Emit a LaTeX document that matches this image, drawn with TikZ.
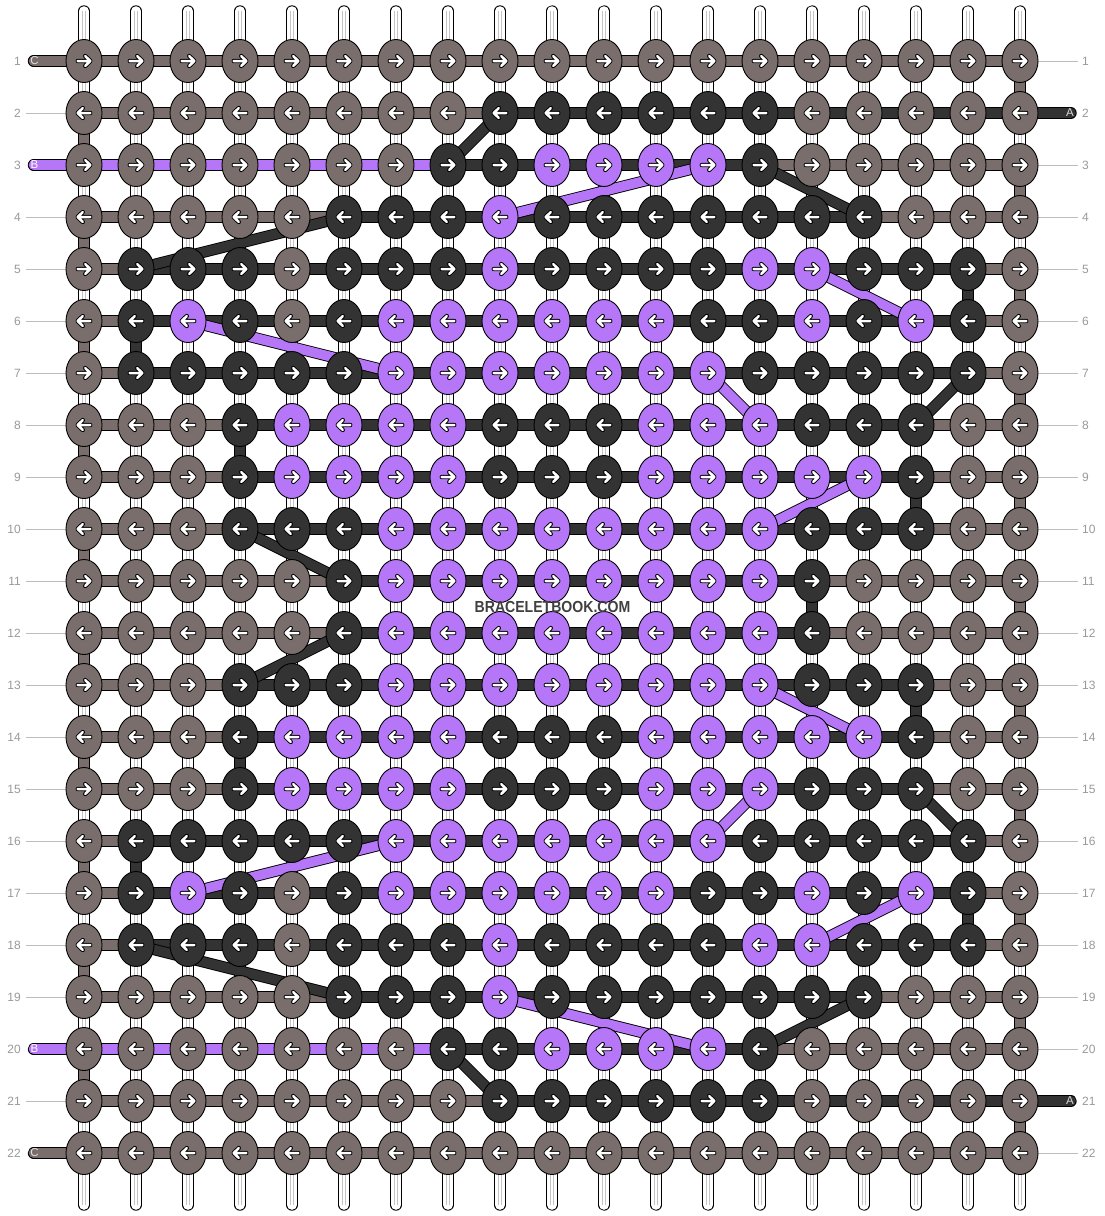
\documentclass[tikz,border=0pt]{standalone}
\usepackage{fontspec}
\setmainfont{Liberation Sans}
\usetikzlibrary{shapes.geometric}
\definecolor{kg}{HTML}{7A6E6C}
\definecolor{kd}{HTML}{333333}
\definecolor{kp}{HTML}{B676F8}
\definecolor{lblc}{HTML}{9A9A9A}
\definecolor{tickc}{HTML}{BDBDBD}
\definecolor{warpl}{HTML}{C4C4C4}
\definecolor{brandc}{HTML}{404040}
\tikzset{
 seg/.style={draw=black, line width=0.9pt, double=#1, double distance=9.6pt},
 warp/.style={draw=black, line width=0.9pt, double=white, double distance=9.6pt, line cap=round},
 knot/.style={ellipse, draw=black, line width=0.9pt, minimum width=36pt, minimum height=43pt, inner sep=0pt},
 rowlbl/.style={text=lblc, font=\fontsize{12}{14}\selectfont, inner sep=0pt},
 endlbl/.style={font=\fontsize{11.5}{13}\selectfont, inner sep=0pt},
 tickline/.style={draw=tickc, line width=0.9pt},
 rarr/.pic={
  \draw[black,line width=4.3pt,line cap=round,line join=round] (-6.3,0)--(6.3,0) (1.2,-5)--(6.3,0)--(1.2,5);
  \draw[white,line width=2.5pt,line cap=round,line join=round] (-6.3,0)--(6.3,0) (1.2,-5)--(6.3,0)--(1.2,5);
 },
 larr/.pic={
  \draw[black,line width=4.3pt,line cap=round,line join=round] (6.3,0)--(-6.3,0) (-1.2,-5)--(-6.3,0)--(-1.2,5);
  \draw[white,line width=2.5pt,line cap=round,line join=round] (6.3,0)--(-6.3,0) (-1.2,-5)--(-6.3,0)--(-1.2,5);
 }
}
\newcommand{\mkknot}[3]{%
 \node[knot, fill=k#3] (k-#1-#2) at (p-#1-#2) {};
 \ifodd#1 \pic at (p-#1-#2) {rarr};\else \pic at (p-#1-#2) {larr};\fi}
\begin{document}
\begin{tikzpicture}[x=1pt,y=-1pt]
\fill[white] (0,0) rectangle (1104,1216);
\path[use as bounding box] (0,0) rectangle (1104,1216);
% grid coordinates
\foreach \r in {1,...,22}{\foreach \c in {1,...,19}{
  \coordinate (p-\r-\c) at ({84+(\c-1)*52},{61+(\r-1)*52});}}
% warps
\foreach \c in {1,...,19}{
  \coordinate (wt-\c) at ({84+(\c-1)*52},11);
  \coordinate (wb-\c) at ({84+(\c-1)*52},1205);
  \draw[warp] (wt-\c) -- (wb-\c);
  \draw[draw=warpl, line width=0.7pt] ([xshift=-1.8pt]wt-\c) -- ([xshift=-1.8pt]wb-\c)
     ([xshift=1.8pt]wt-\c) -- ([xshift=1.8pt]wb-\c);
}
% vertical turns at edges (gray)
\foreach \r in {2,4,...,20}{\pgfmathtruncatemacro\rn{\r+1}\draw[seg=kg] (p-\r-1) -- (p-\rn-1);}
\foreach \r in {1,3,...,21}{\pgfmathtruncatemacro\rn{\r+1}\draw[seg=kg] (p-\r-19) -- (p-\rn-19);}
% vertical turns (dark)
\foreach \c/\r in {18/5,2/6,4/8,17/9,15/11,17/13,4/14,2/16,18/17}{
  \pgfmathtruncatemacro\rn{\r+1}\draw[seg=kd] (p-\r-\c) -- (p-\rn-\c);}
% horizontal segments
\foreach \r/\L/\R/\lc in {1/0/0/kg,2/9/20/kg,3/8/14/kp,4/6/16/kg,5/2/18/kg,6/2/18/kg,7/2/18/kg,
  8/4/17/kg,9/4/17/kg,10/4/17/kg,11/6/15/kg,12/6/15/kg,13/4/17/kg,14/4/17/kg,15/4/17/kg,
  16/2/18/kg,17/2/18/kg,18/2/18/kg,19/6/16/kg,20/8/14/kp,21/9/20/kg,22/0/0/kg}{
  \foreach \i in {1,...,18}{
    \pgfmathtruncatemacro\ii{\i+1}
    \ifnum\i<\L\relax\edef\sc{\lc}\else\ifnum\i<\R\relax\edef\sc{kd}\else\edef\sc{kg}\fi\fi
    \draw[seg=\sc] (p-\r-\i) -- (p-\r-\ii);
  }
}
% thread ends
\coordinate (eC1) at (33.5,61);
\coordinate (eB3) at (33.5,165);
\coordinate (eB20) at (33.5,1049);
\coordinate (eC22) at (33.5,1153);
\coordinate (eA2) at (1071,113);
\coordinate (eA21) at (1071,1101);
\draw[seg=kg, line cap=round] (p-1-1) -- (eC1);
\draw[seg=kp, line cap=round] (p-3-1) -- (eB3);
\draw[seg=kp, line cap=round] (p-20-1) -- (eB20);
\draw[seg=kg, line cap=round] (p-22-1) -- (eC22);
\draw[seg=kd, line cap=round] (p-2-19) -- (eA2);
\draw[seg=kd, line cap=round] (p-21-19) -- (eA21);
\node[endlbl, text=white!88!black] (tC1) at ([xshift=1pt]eC1) {C};
\node[endlbl, text=white] (tB3) at ([xshift=1pt]eB3) {B};
\node[endlbl, text=white] (tB20) at ([xshift=1pt]eB20) {B};
\node[endlbl, text=white!88!black] (tC22) at ([xshift=1pt]eC22) {C};
\node[endlbl, text=white!85!black] (tA2) at ([xshift=-1pt]eA2) {A};
\node[endlbl, text=white!85!black] (tA21) at ([xshift=-1pt]eA21) {A};
% tick lines
\foreach \r in {2,4,5,6,7,8,9,10,11,12,13,14,15,16,17,18,19,21}{
  \draw[tickline] ([xshift=-18pt]p-\r-1) -- ([xshift=-58pt]p-\r-1);}
\foreach \r in {1,3,4,5,6,7,8,9,10,11,12,13,14,15,16,17,18,19,20,22}{
  \draw[tickline] ([xshift=18pt]p-\r-19) -- ([xshift=58pt]p-\r-19);}
% diagonals dark
\foreach \a/\b/\c/\d in {2/9/3/8,3/14/4/16,4/6/5/2,7/18/8/17,10/4/11/6,12/6/13/4,15/17/16/18,18/2/19/6,19/16/20/14,20/8/21/9}{
  \draw[seg=kd] (p-\a-\b) -- (p-\c-\d);}
% diagonals purple
\foreach \a/\b/\c/\d in {3/13/4/9,5/15/6/17,6/3/7/7,7/13/8/14,9/16/10/14,13/14/14/16,15/14/16/13,16/7/17/3,17/17/18/15,19/9/20/13}{
  \draw[seg=kp] (p-\a-\b) -- (p-\c-\d);}
% white plate behind brand text
\path[fill=white] (470,601.5) rectangle (636,612.5);
% knots
\foreach \c [count=\i] in {g,g,g,g,g,g,g,g,g,g,g,g,g,g,g,g,g,g,g}{\mkknot{1}{\i}{\c}}
\foreach \c [count=\i] in {g,g,g,g,g,g,g,g,d,d,d,d,d,d,g,g,g,g,g}{\mkknot{2}{\i}{\c}}
\foreach \c [count=\i] in {g,g,g,g,g,g,g,d,d,p,p,p,p,d,g,g,g,g,g}{\mkknot{3}{\i}{\c}}
\foreach \c [count=\i] in {g,g,g,g,g,d,d,d,p,d,d,d,d,d,d,d,g,g,g}{\mkknot{4}{\i}{\c}}
\foreach \c [count=\i] in {g,d,d,d,g,d,d,d,p,d,d,d,d,p,p,d,d,d,g}{\mkknot{5}{\i}{\c}}
\foreach \c [count=\i] in {g,d,p,d,g,d,p,p,p,p,p,p,d,d,p,d,p,d,g}{\mkknot{6}{\i}{\c}}
\foreach \c [count=\i] in {g,d,d,d,d,d,p,p,p,p,p,p,p,d,d,d,d,d,g}{\mkknot{7}{\i}{\c}}
\foreach \c [count=\i] in {g,g,g,d,p,p,p,p,d,d,d,p,p,p,d,d,d,g,g}{\mkknot{8}{\i}{\c}}
\foreach \c [count=\i] in {g,g,g,d,p,p,p,p,d,d,d,p,p,p,p,p,d,g,g}{\mkknot{9}{\i}{\c}}
\foreach \c [count=\i] in {g,g,g,d,d,d,p,p,p,p,p,p,p,p,d,d,d,g,g}{\mkknot{10}{\i}{\c}}
\foreach \c [count=\i] in {g,g,g,g,g,d,p,p,p,p,p,p,p,p,d,g,g,g,g}{\mkknot{11}{\i}{\c}}
\foreach \c [count=\i] in {g,g,g,g,g,d,p,p,p,p,p,p,p,p,d,g,g,g,g}{\mkknot{12}{\i}{\c}}
\foreach \c [count=\i] in {g,g,g,d,d,d,p,p,p,p,p,p,p,p,d,d,d,g,g}{\mkknot{13}{\i}{\c}}
\foreach \c [count=\i] in {g,g,g,d,p,p,p,p,d,d,d,p,p,p,p,p,d,g,g}{\mkknot{14}{\i}{\c}}
\foreach \c [count=\i] in {g,g,g,d,p,p,p,p,d,d,d,p,p,p,d,d,d,g,g}{\mkknot{15}{\i}{\c}}
\foreach \c [count=\i] in {g,d,d,d,d,d,p,p,p,p,p,p,p,d,d,d,d,d,g}{\mkknot{16}{\i}{\c}}
\foreach \c [count=\i] in {g,d,p,d,g,d,p,p,p,p,p,p,d,d,p,d,p,d,g}{\mkknot{17}{\i}{\c}}
\foreach \c [count=\i] in {g,d,d,d,g,d,d,d,p,d,d,d,d,p,p,d,d,d,g}{\mkknot{18}{\i}{\c}}
\foreach \c [count=\i] in {g,g,g,g,g,d,d,d,p,d,d,d,d,d,d,d,g,g,g}{\mkknot{19}{\i}{\c}}
\foreach \c [count=\i] in {g,g,g,g,g,g,g,d,d,p,p,p,p,d,g,g,g,g,g}{\mkknot{20}{\i}{\c}}
\foreach \c [count=\i] in {g,g,g,g,g,g,g,g,d,d,d,d,d,d,g,g,g,g,g}{\mkknot{21}{\i}{\c}}
\foreach \c [count=\i] in {g,g,g,g,g,g,g,g,g,g,g,g,g,g,g,g,g,g,g}{\mkknot{22}{\i}{\c}}
% row labels
\foreach \r in {1,...,22}{
  \node[rowlbl, anchor=east] (ll-\r) at ([xshift=-63pt]p-\r-1) {\r};
  \node[rowlbl, anchor=west] (rl-\r) at ([xshift=62pt]p-\r-19) {\r};
}
% brand
\node[inner sep=0pt, text=brandc, font=\bfseries\fontsize{16}{18}\selectfont] (brand) at (552.5,607) {\scalebox{0.88}[1]{BRACELETBOOK.COM}};
\end{tikzpicture}
\end{document}
